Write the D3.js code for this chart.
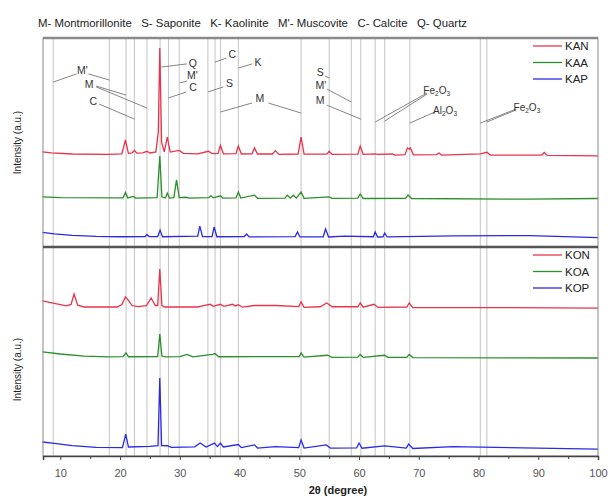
<!DOCTYPE html>
<html>
<head>
<meta charset="utf-8">
<script src="https://cdn.jsdelivr.net/npm/d3@7"></script>
<style>
  body { margin: 0; background: #fff; }
  text { font-family: Arial, "Liberation Sans", sans-serif; }
</style>
</head>
<body>
<div class="root"></div>
<script>

// ---- data (2θ in degree, intensity in a.u.) ----
var phaseKey = "M- Montmorillonite   S- Saponite   K- Kaolinite   M'- Muscovite   C- Calcite   Q- Quartz";

var xTicks = [10, 20, 30, 40, 50, 60, 70, 80, 90, 100];

// gray marker lines for the reflections
var refLines = [8.8, 18.2, 21.0, 22.4, 24.5, 26.7, 28.1, 29.9, 34.7, 35.9, 36.8, 39.8,
                50.3, 55.0, 58.7, 60.3, 62.7, 64.3, 68.5, 80.3, 81.4];

var topNames = ["KAN", "KAA", "KAP"];
var botNames = ["KON", "KOA", "KOP"];
var colors = ["#e8334a", "#2b8f2b", "#2a2ae6"];

// top panel
var KAN = [[7,45.5],[8.5,45],[12,44.5],[18,44.3],[20.3,44.6],[20.9,51.2],[21.4,44.8],[22.0,45],[22.4,46.2],[22.8,44.9],
  [23.8,45],[24.5,45.8],[25,45],[26.0,45.5],[26.4,55],[26.65,95.2],[26.95,50],[27.4,45.5],[27.9,52.6],[28.4,45.4],
  [29.9,46.2],[30.6,44.8],[33,44.6],[34.8,45.8],[35.4,44.7],[36.4,44.8],[36.8,48.6],[37.3,44.6],[39.4,44.7],[39.8,48.3],
  [40.3,44.5],[42.1,44.6],[42.5,47.4],[43.0,44.5],[45.5,44.5],[46,46.1],[46.6,44.3],[49.8,44.5],[50.3,52.6],[50.8,44.4],
  [54.6,44.4],[55.0,45.8],[55.5,44.3],[59.8,44.4],[60.2,48.3],[60.7,44.3],[62.7,44.6],[63.1,44.3],[65.6,44.5],[66.0,44],
  [67.7,44.2],[68.1,47.4],[68.4,46.8],[68.6,47.4],[69.1,44.1],[73,44.2],[73.4,45],[73.8,44],[80.3,44.6],[81.4,45.3],
  [82,44],[90.6,44],[91,45.2],[91.5,43.8],[100,43.6]];

var KAA = [[7,24],[10,23.6],[20.5,23.5],[20.9,26.0],[21.3,23.5],[22.2,24.2],[22.6,23.4],[26.2,23.6],[26.65,43.5],[27.0,24],
  [27.6,23.5],[27.9,25.8],[28.3,23.4],[29.0,23.6],[29.45,32.1],[29.9,23.6],[31,23.8],[31.6,23.4],[34.8,23.6],[35.2,24.5],
  [35.6,23.5],[36.8,24.5],[37.2,23.4],[39.4,23.5],[39.8,26.3],[40.2,23.4],[42.5,24.8],[43,23.3],[47.6,23.4],[48,24.8],
  [48.5,23.4],[49,24.8],[49.5,23.4],[50.3,26.3],[50.8,23.3],[55,24],[55.5,23.3],[59.8,23.4],[60.2,25.4],[60.7,23.2],
  [67.8,23.3],[68.2,24.9],[68.8,23.2],[88,22.9],[100,23.2]];

var KAP = [[7,7.0],[9,6.3],[12,5.6],[16,5.1],[20,4.9],[24.2,5],[24.5,5.9],[24.9,5],[26.3,5],[26.7,8.1],[27.1,4.9],
  [33.0,5.2],[33.35,10],[33.8,5.0],[35.4,5.0],[35.75,9.6],[36.2,4.9],[40.8,5],[41.2,6.2],[41.6,4.8],[49.3,5],[49.7,7.2],
  [50.1,4.8],[54,4.9],[54.4,8.6],[54.9,4.8],[57.6,5.2],[62.4,4.9],[62.7,7.2],[63.1,4.8],[64.0,4.9],[64.3,6.7],[64.7,4.8],
  [76,5.3],[85,5.4],[88.6,5.4],[100,4.5]];

// bottom panel
var KON = [[7,74.2],[9,73],[11,71.8],[11.8,72.5],[12.3,77.5],[12.9,72.2],[14,71.3],[19.5,71.3],[20.3,72.5],[20.9,76.1],
  [21.4,74.5],[22,72],[23,71.5],[24.4,72],[25.2,75.6],[25.9,72],[26.3,72],[26.65,89.5],[27.0,72],[27.5,71.3],[33,71.3],
  [34,72],[35.1,72.6],[35.6,71.6],[36.8,72.6],[37.4,71.6],[38.8,72.6],[39.3,71.8],[39.8,72.4],[40.5,71.2],[42.5,72],
  [46,72],[49.9,71.5],[50.3,73.7],[50.8,71.1],[53.5,71.4],[54.6,73.2],[55.5,71.4],[59.8,71.4],[60.2,73.2],[60.7,71.2],
  [62.5,72.6],[63.2,71.1],[68,71.3],[68.4,73.2],[69,71],[80,71],[100,70.8]];

var KOA = [[7,49.8],[10,48.8],[14,47.8],[18,47.4],[20.5,47.5],[21,49.3],[21.4,47.5],[26.3,47.6],[26.65,58.4],[27,47.8],
  [27.6,47.4],[30,47.5],[31.2,48.6],[32.2,47.4],[35.5,48.6],[35.9,49],[36.5,47.5],[50,47.6],[50.3,49.3],[50.8,47.3],
  [54.7,48.2],[55.5,47.2],[59.8,47.3],[60.2,48.6],[60.7,47.2],[64.3,48.2],[64.8,47.2],[68,47.2],[68.4,48.6],[69,47.1],
  [100,46.9]];

var KOP = [[7,6.7],[9,6],[12,5],[16,4.1],[20.4,4.0],[20.95,10.5],[21.4,4.3],[25,4.6],[26.35,5],[26.65,37.3],[26.95,5],
  [27.9,4.9],[28.6,4.1],[32.5,4.4],[33.4,6.2],[34.4,4.3],[35.8,6.2],[36.3,4.5],[36.8,6.2],[37.3,4.3],[39.8,5.5],[40.3,4.0],
  [42.5,5.3],[43,3.8],[46,4.5],[49.9,4.0],[50.3,7.7],[50.8,3.8],[54.5,5.3],[55.2,3.8],[59.6,3.9],[60.0,6.2],[60.5,3.7],
  [64.3,4.8],[67.9,3.8],[68.3,5.7],[69,3.6],[75.7,4.5],[100,3.3]];

// phase labels in the top panel: [text, 2θ, a.u., leader lines [[x1,y1,x2,y2],...]]
var labels = [
  ["M'", 13.7, 84.7, [[12.7,82.8,8.8,78.9],[14.7,82.8,18.2,79.9]]],
  ["M", 14.8, 78.0, [[16.0,77.0,21.0,72.7],[16.0,76.6,24.5,66.5]]],
  ["C", 15.5, 69.9, [[16.5,68.4,22.4,61.2]]],
  ["Q", 32.2, 88.0, [[31.2,87.6,26.9,86.1]]],
  ["M'", 32.1, 82.3, [[31.2,79.4,30.0,78.5]]],
  ["C", 32.2, 76.6, [[31.1,74.2,28.1,71.3]]],
  ["C", 38.8, 92.3, [[37.8,90.4,35.9,88.5]]],
  ["K", 43.1, 88.5, [[42.1,87.6,39.8,85.6]]],
  ["S", 38.3, 78.5, [[37.3,76.6,34.7,74.2]]],
  ["M", 43.4, 71.3, [[42.1,68.9,36.8,64.6],[44.8,68.9,50.3,64.1]]],
  ["S", 53.5, 83.7, [[54.3,81.8,55.0,80.9]]],
  ["M'", 53.6, 77.5, [[54.6,75.6,58.7,69.4]]],
  ["M", 53.5, 70.3, [[54.6,67.9,60.3,61.2]]],
  ["Fe2O3", 73.0, 75.1, [[71.4,73.7,62.7,59.8],[71.4,73.2,64.3,60.3]]],
  ["Al2O3", 74.4, 65.6, [[72.7,64.6,68.5,59.3]]],
  ["Fe2O3", 88.1, 67.0, [[86.3,66.0,80.3,59.3],[86.3,65.6,81.4,59.8]]]
];

// ---- layout ----
var W = 608, H = 497;
var pLeft = 43, pRight = 598, pTop = 38, pMid = 247, pBottom = 456;

var svg = d3.select('.root').append('svg')
            .attr('width', W)
            .attr('height', H);

var x = d3.scaleLinear().domain([7.1, 100]).range([pLeft, pRight]);
var yTop = d3.scaleLinear().domain([0, 100]).range([pMid, pTop]);
var yBot = d3.scaleLinear().domain([0, 100]).range([pBottom, pMid]);

// title key
svg.append('text')
   .attr('x', 38).attr('y', 27)
   .attr('xml:space', 'preserve')
   .attr('textLength', 429).attr('lengthAdjust', 'spacingAndGlyphs')
   .style('font-size', '11.5px').style('fill', '#222')
   .text(phaseKey);

// reference lines
svg.append('g').selectAll('line')
   .data(refLines).enter().append('line')
   .attr('x1', d => x(d)).attr('x2', d => x(d))
   .attr('y1', pTop).attr('y2', pBottom)
   .style('stroke', '#c4c4c4').style('stroke-width', 1);

// curves
var lineTop = d3.line().x(d => x(d[0])).y(d => yTop(d[1]));
var lineBot = d3.line().x(d => x(d[0])).y(d => yBot(d[1]));

[KAN, KAA, KAP].forEach(function (each, i) {
  svg.append('path').datum(each)
     .attr('d', lineTop)
     .style('fill', 'none').style('stroke', colors[i]).style('stroke-width', 1.3);
});
[KON, KOA, KOP].forEach(function (each, i) {
  svg.append('path').datum(each)
     .attr('d', lineBot)
     .style('fill', 'none').style('stroke', colors[i]).style('stroke-width', 1.3);
});

// frame
svg.append('rect')
   .attr('x', pLeft).attr('y', pTop)
   .attr('width', pRight - pLeft).attr('height', pBottom - pTop)
   .style('fill', 'none').style('stroke', '#8a8a8a').style('stroke-width', 1);
svg.append('line').attr('x1', pLeft).attr('x2', pRight).attr('y1', pTop).attr('y2', pTop)
   .style('stroke', '#8a8a8a').style('stroke-width', 2.5);
svg.append('line').attr('x1', pLeft).attr('x2', pRight).attr('y1', pMid).attr('y2', pMid)
   .style('stroke', '#555').style('stroke-width', 2.5);

// x axis
var xAxis = svg.append('g')
   .attr('transform', 'translate(0,' + pBottom + ')')
   .call(d3.axisBottom(x).tickValues(xTicks).tickSize(4).tickFormat(d3.format('d')));
xAxis.select('.domain').style('stroke', '#444').style('stroke-width', 1.5);
xAxis.selectAll('.tick line').style('stroke', '#444');
xAxis.selectAll('.tick text')
     .attr('dy', '1.25em')
     .style('font-size', '11px').style('fill', '#555')
     .style('font-family', 'Arial, "Liberation Sans", sans-serif');

var minor = svg.append('g')
   .attr('transform', 'translate(0,' + pBottom + ')')
   .call(d3.axisBottom(x).tickValues(xTicks.map(d => d - 5).filter(d => d > 7.1)).tickSize(3).tickFormat(''));
minor.select('.domain').remove();
minor.selectAll('.tick line').style('stroke', '#444');

svg.append('text')
   .attr('x', 338).attr('y', 494)
   .attr('text-anchor', 'middle')
   .style('font-size', '11px').style('font-weight', 'bold').style('fill', '#222')
   .text('2θ (degree)');

// y titles
[(pTop + pMid) / 2, (pMid + pBottom) / 2 + 18].forEach(function (cy) {
  svg.append('text')
     .attr('transform', 'translate(21,' + cy + ') rotate(-90)')
     .attr('text-anchor', 'middle')
     .style('font-size', '10px').style('fill', '#222')
     .text('Intensity (a.u.)');
});

// legends
function legend(names, y0) {
  names.forEach(function (n, i) {
    var yy = y0 + i * 16.5;
    svg.append('line').attr('x1', 533).attr('x2', 562).attr('y1', yy).attr('y2', yy)
       .style('stroke', colors[i]).style('stroke-width', 1.3);
    svg.append('text').attr('x', 565).attr('y', yy + 4)
       .style('font-size', '11.5px').style('fill', '#222')
       .text(n);
  });
}
legend(topNames, 46);
legend(botNames, 255);

// phase labels with leader lines
var ann = svg.append('g');
labels.forEach(function (l) {
  l[3].forEach(function (s) {
    ann.append('line')
       .attr('x1', x(s[0])).attr('y1', yTop(s[1]))
       .attr('x2', x(s[2])).attr('y2', yTop(s[3]))
       .style('stroke', '#666').style('stroke-width', 0.8);
  });
  var t = ann.append('text')
     .attr('x', x(l[1])).attr('y', yTop(l[2]) + 4)
     .attr('text-anchor', 'middle')
     .style('font-size', '10.5px').style('fill', '#333');
  var m = l[0].match(/^([A-Za-z]+)(\d)([A-Za-z]+)(\d)$/);
  if (m) {
    t.style('font-size', '10px');
    t.append('tspan').text(m[1]);
    t.append('tspan').attr('dy', 2).style('font-size', '6.5px').text(m[2]);
    t.append('tspan').attr('dy', -2).text(m[3]);
    t.append('tspan').attr('dy', 2).style('font-size', '6.5px').text(m[4]);
  } else {
    t.text(l[0]);
  }
});

</script>
</body>
</html>
